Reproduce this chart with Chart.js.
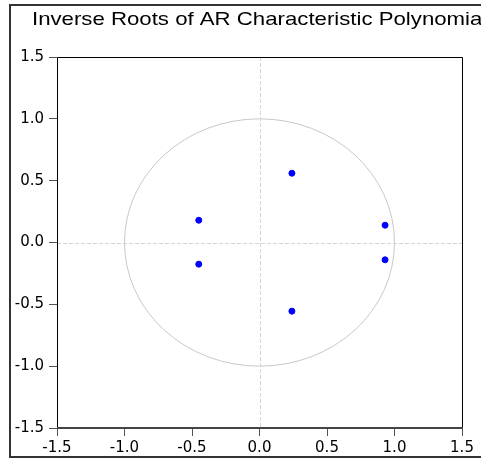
<!DOCTYPE html>
<html>
<head>
<meta charset="utf-8">
<script src="https://cdn.jsdelivr.net/npm/chart.js@4/dist/chart.umd.min.js"></script>
<style>
  html, body { margin: 0; padding: 0; background: #fff; }
  #wrap { width: 481px; height: 459px; }
</style>
</head>
<body>
<div id="wrap"><canvas id="myChart" width="481" height="459"></canvas></div>
<script>
const realParts = [0.24, 0.24, -0.45, -0.45, 0.93, 0.93];
const imagParts = [0.56, -0.555, 0.18, -0.175, 0.14, -0.14];
const tickValues = [-1.5, -1.0, -0.5, 0.0, 0.5, 1.0, 1.5];
const chartTitle = "Inverse Roots of AR Characteristic Polynomial";

const points = realParts.map((x, i) => ({ x: x, y: imagParts[i] }));

// frame, title, unit circle, dashed zero lines and the plot box
const decorations = {
  id: "decorations",
  beforeDatasetsDraw(chart) {
    const { ctx, chartArea, scales } = chart;
    const xs = scales.x, ys = scales.y;
    ctx.save();
    // unit circle from the scales
    const cx = xs.getPixelForValue(0), cy = ys.getPixelForValue(0);
    const rx = xs.getPixelForValue(1) - cx, ry = cy - ys.getPixelForValue(1);
    ctx.strokeStyle = "#c8c8c8";
    ctx.lineWidth = 1;
    ctx.beginPath();
    ctx.ellipse(cx, cy, rx, ry, 0, 0, Math.PI * 2);
    ctx.stroke();
    // dashed zero lines
    ctx.strokeStyle = "#d4d4d4";
    ctx.setLineDash([4, 2]);
    ctx.beginPath();
    ctx.moveTo(chartArea.left, Math.round(cy) + 0.5); ctx.lineTo(chartArea.right, Math.round(cy) + 0.5);
    ctx.moveTo(Math.round(cx) + 0.5, chartArea.top); ctx.lineTo(Math.round(cx) + 0.5, chartArea.bottom);
    ctx.stroke();
    ctx.restore();
  },
  afterDraw(chart) {
    const { ctx, chartArea } = chart;
    const l = Math.round(chartArea.left) + 0.5, t = Math.round(chartArea.top) + 0.5;
    const r = Math.round(chartArea.right) + 0.5, b = Math.round(chartArea.bottom);
    ctx.save();
    ctx.strokeStyle = "#000";
    ctx.lineWidth = 1;
    ctx.beginPath();
    ctx.moveTo(l, b); ctx.lineTo(l, t); ctx.lineTo(r, t); ctx.lineTo(r, b);
    ctx.stroke();
    // thicker bottom axis line
    ctx.strokeStyle = "#444";
    ctx.lineWidth = 2;
    ctx.beginPath();
    ctx.moveTo(l - 0.5, b); ctx.lineTo(r + 0.5, b);
    ctx.stroke();
    // outer frame
    ctx.strokeStyle = "#333";
    ctx.lineWidth = 2;
    ctx.strokeRect(10, 5, 490, 452);
    // title, a little stretched like the picture
    ctx.fillStyle = "#000";
    ctx.font = "18.5px 'Liberation Sans', Arial, sans-serif";
    ctx.textBaseline = "alphabetic";
    ctx.textAlign = "left";
    ctx.translate(32, 25);
    ctx.scale(1.2, 1);
    ctx.fillText(chartTitle, 0, 0);
    ctx.restore();
  }
};

const tickFont = { family: "'DejaVu Sans', sans-serif", size: 15 };

const config = {
  type: "scatter",
  data: {
    datasets: [
      {
        data: points,
        backgroundColor: "#0000ff",
        borderColor: "#0000ff",
        pointRadius: 3,
        pointHoverRadius: 3,
      },
    ],
  },
  options: {
    responsive: false,
    animation: false,
    layout: { padding: { top: 57, right: 19, left: 0, bottom: 0 } },
    plugins: {
      legend: { display: false },
      tooltip: { enabled: false },
      title: { display: false },
    },
    scales: {
      x: {
        type: "linear",
        min: -1.5,
        max: 1.5,
        afterBuildTicks: (scale) => {
          scale.ticks = tickValues.map((v) => ({ value: v }));
        },
        afterFit: (scale) => { scale.height = 31; },
        grid: { drawOnChartArea: false, tickLength: 8, tickColor: "#555", color: "#555" },
        border: { display: false },
        ticks: {
          color: "#000",
          font: tickFont,
          padding: 3,
          maxRotation: 0,
          autoSkip: false,
          callback: (v) => Number(v).toFixed(1),
        },
      },
      y: {
        type: "linear",
        min: -1.5,
        max: 1.5,
        afterBuildTicks: (scale) => {
          scale.ticks = tickValues.map((v) => ({ value: v }));
        },
        afterFit: (scale) => { scale.width = 57; },
        grid: { drawOnChartArea: false, tickLength: 8, tickColor: "#555", color: "#555" },
        border: { display: false },
        ticks: {
          color: "#000",
          font: tickFont,
          padding: 5,
          autoSkip: false,
          callback: (v) => Number(v).toFixed(1),
        },
      },
    },
  },
  plugins: [decorations],
};

const myChart = new Chart(document.getElementById("myChart").getContext("2d"), config);
</script>
</body>
</html>
